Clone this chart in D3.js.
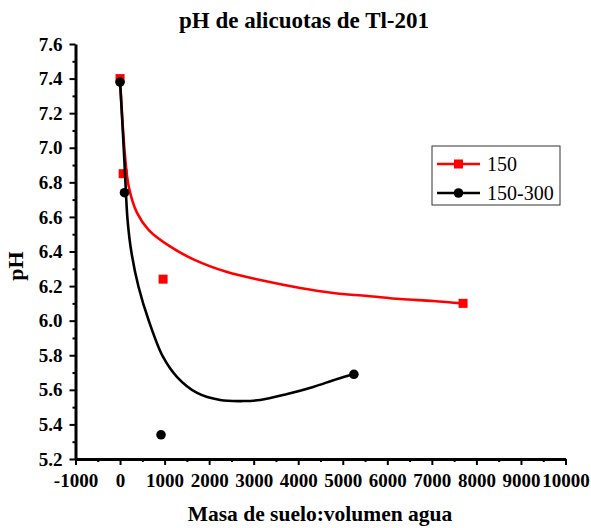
<!DOCTYPE html>
<html>
<head>
<meta charset="utf-8">
<script src="https://cdn.jsdelivr.net/npm/d3@7"></script>
<style>
  body { margin: 0; background: #fff; }
  svg { display: block; }
  text { font-family: "Liberation Serif", "Times New Roman", serif; }
</style>
</head>
<body>
<svg id="chart"></svg>
<script>
const width = 591
const height = 528

// measured points
const s150X = [0, 70, 966, 7700]
const s150Y = [7.40, 6.85, 6.24, 6.10]
const s150300X = [0, 100, 920, 5250]
const s150300Y = [7.38, 6.74, 5.34, 5.69]

// fitted curves
const fit150X = [0, 106, 196, 382, 645, 1130, 1685, 2404, 3146, 4045, 4787, 5551, 6292, 7034, 7700]
const fit150Y = [7.40, 6.97, 6.775, 6.623, 6.524, 6.428, 6.35, 6.281, 6.235, 6.189, 6.16, 6.143, 6.125, 6.114, 6.10]
const fit150300X = [0, 49, 108, 169, 258, 416, 640, 966, 1281, 1730, 2247, 2764, 3146, 3753, 4337, 4876, 5250]
const fit150300Y = [7.38, 7.16, 6.871, 6.582, 6.391, 6.195, 6.004, 5.79, 5.674, 5.582, 5.541, 5.535, 5.541, 5.576, 5.617, 5.663, 5.69]

const xTicks = d3.range(-1000, 10001, 1000)
const xMinor = d3.range(-500, 10000, 1000)
const yTicks = d3.range(5.2, 7.61, 0.2)
const yMinor = d3.range(5.3, 7.6, 0.2)

const seriesNames = ['150', '150-300']
const seriesColors = ['#ff0000', '#000000']

const serif = '"Liberation Serif", "Times New Roman", serif'
const margin = { left: 75.5, top: 44, right: 25.5, bottom: 69 }

const svg = d3.select('#chart')
    .attr('width', width)
    .attr('height', height)

const x = d3.scaleLinear()
    .domain([-1000, 10000])
    .range([margin.left, width - margin.right])

const y = d3.scaleLinear()
    .domain([5.2, 7.6])
    .range([height - margin.bottom, margin.top])

// minor ticks first
svg.append('g')
    .attr('transform', `translate(0,${height - margin.bottom})`)
    .call(d3.axisBottom(x).tickValues(xMinor).tickSize(3).tickFormat(''))
    .call(g => g.select('.domain').remove())
    .call(g => g.selectAll('line').attr('stroke-width', 2))

svg.append('g')
    .attr('transform', `translate(${margin.left},0)`)
    .call(d3.axisLeft(y).tickValues(yMinor).tickSize(3).tickFormat(''))
    .call(g => g.select('.domain').remove())
    .call(g => g.selectAll('line').attr('stroke-width', 2))

const styleLabels = g => g.selectAll('text')
    .style('font-family', serif)
    .style('font-size', '19px')
    .style('font-weight', 'bold')
    .attr('fill', '#000')

const xAxis = g => g
    .attr('transform', `translate(0,${height - margin.bottom})`)
    .call(d3.axisBottom(x).tickValues(xTicks).tickSize(6).tickSizeOuter(0).tickPadding(9).tickFormat(d => String(d)))
    .call(g => g.select('.domain').attr('stroke-width', 3))
    .call(g => g.selectAll('.tick line').attr('stroke-width', 2))
    .call(styleLabels)

const yAxis = g => g
    .attr('transform', `translate(${margin.left},0)`)
    .call(d3.axisLeft(y).tickValues(yTicks).tickSize(6).tickSizeOuter(0).tickPadding(7).tickFormat(d => d.toFixed(1)))
    .call(g => g.select('.domain').attr('stroke-width', 3))
    .call(g => g.selectAll('.tick line').attr('stroke-width', 2))
    .call(styleLabels)

svg.append('g').call(xAxis)
svg.append('g').call(yAxis)

const line = d3.line()
    .x(d => x(d[0]))
    .y(d => y(d[1]))
    .curve(d3.curveCatmullRom.alpha(0.5))

const fits = [
    d3.zip(fit150X, fit150Y),
    d3.zip(fit150300X, fit150300Y)
]
const points = [
    d3.zip(s150X, s150Y),
    d3.zip(s150300X, s150300Y)
]

fits.forEach((f, i) => {
    svg.append('path')
        .datum(f)
        .attr('fill', 'none')
        .attr('stroke', seriesColors[i])
        .attr('stroke-width', 2.6)
        .attr('d', line)

    if (i == 0) {
        svg.append('g')
            .selectAll('rect')
            .data(points[i])
            .join('rect')
            .attr('x', d => x(d[0]) - 4.5)
            .attr('y', d => y(d[1]) - 4.5)
            .attr('width', 9)
            .attr('height', 9)
            .attr('fill', seriesColors[i])
    } else {
        svg.append('g')
            .selectAll('circle')
            .data(points[i])
            .join('circle')
            .attr('cx', d => x(d[0]))
            .attr('cy', d => y(d[1]))
            .attr('r', 4.8)
            .attr('fill', seriesColors[i])
    }
})

// title and axis labels
svg.append('text')
    .attr('x', 304)
    .attr('y', 28)
    .attr('text-anchor', 'middle')
    .style('font-family', serif)
    .style('font-size', '23px')
    .style('font-weight', 'bold')
    .text('pH de alicuotas de Tl-201')

svg.append('text')
    .attr('x', 320)
    .attr('y', 521)
    .attr('text-anchor', 'middle')
    .style('font-family', serif)
    .style('font-size', '21.5px')
    .style('font-weight', 'bold')
    .text('Masa de suelo:volumen agua')

svg.append('text')
    .attr('transform', 'translate(23,266) rotate(-90)')
    .attr('text-anchor', 'middle')
    .style('font-family', serif)
    .style('font-size', '22px')
    .style('font-weight', 'bold')
    .text('pH')

// legend
const legend = svg.append('g').attr('transform', 'translate(432,146)')
legend.append('rect')
    .attr('width', 128)
    .attr('height', 59)
    .attr('fill', '#fff')
    .attr('stroke', '#333')
    .attr('stroke-width', 1)

seriesNames.forEach((name, i) => {
    const ly = 18 + i * 29
    legend.append('line')
        .attr('x1', 5).attr('x2', 48)
        .attr('y1', ly).attr('y2', ly)
        .attr('stroke', seriesColors[i])
        .attr('stroke-width', 2.6)
    if (i == 0) {
        legend.append('rect')
            .attr('x', 26.5 - 4.5).attr('y', ly - 4.5)
            .attr('width', 9).attr('height', 9)
            .attr('fill', seriesColors[i])
    } else {
        legend.append('circle')
            .attr('cx', 26.5).attr('cy', ly)
            .attr('r', 4.8)
            .attr('fill', seriesColors[i])
    }
    legend.append('text')
        .attr('x', 55)
        .attr('y', ly + 7)
        .style('font-family', serif)
        .style('font-size', '20px')
        .text(name)
})
</script>
</body>
</html>
